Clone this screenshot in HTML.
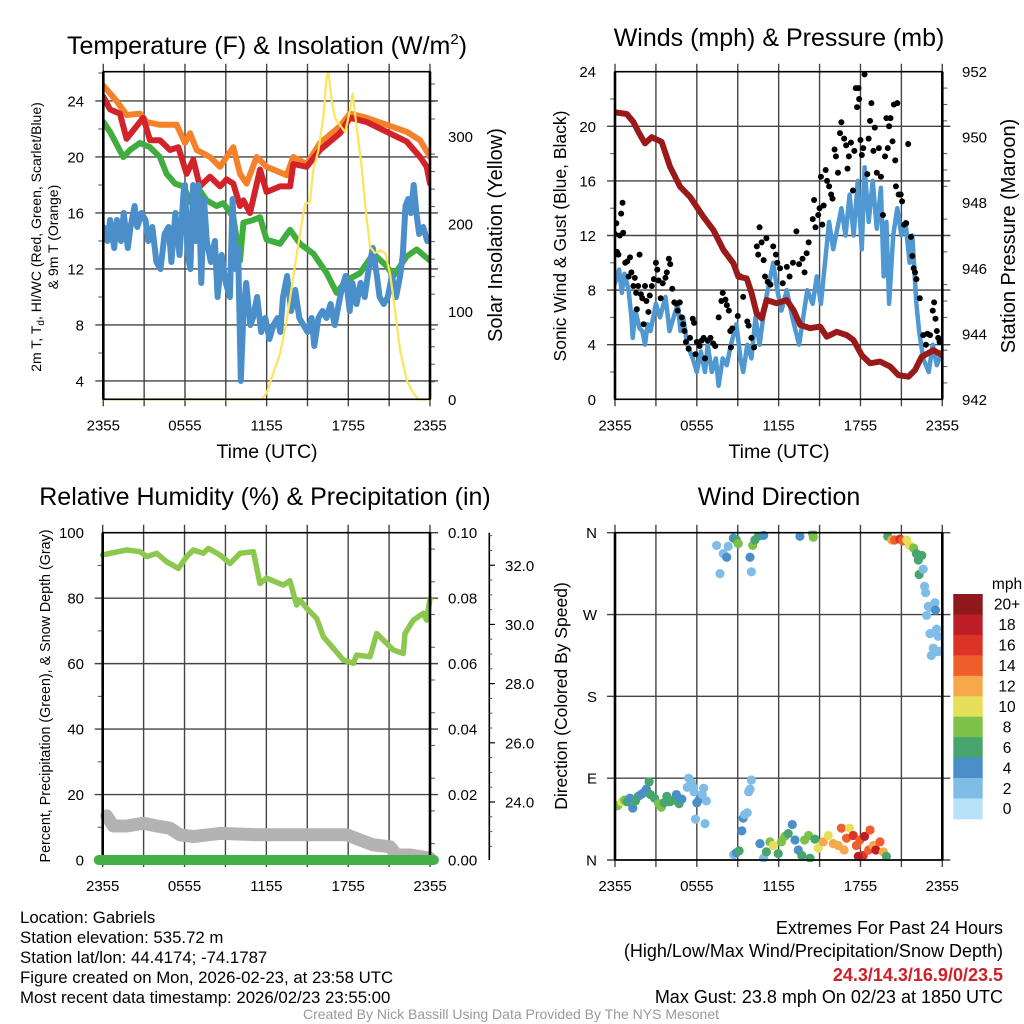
<!DOCTYPE html>
<html><head><meta charset="utf-8"><style>
html,body{margin:0;padding:0;background:#fff;}
svg{display:block;font-family:"Liberation Sans",sans-serif;}
</style></head><body>
<svg id="chart" width="1024" height="1024" viewBox="0 0 1024 1024" xmlns="http://www.w3.org/2000/svg">
<rect x="0" y="0" width="1024" height="1024" fill="#fff"/>
<g fill="#000">
<text x="267" y="54" font-size="25" text-anchor="middle">Temperature (F) &amp; Insolation (W/m<tspan font-size="15" dy="-10">2</tspan><tspan dy="10">)</tspan></text>
<text x="779" y="46" font-size="25" text-anchor="middle">Winds (mph) &amp; Pressure (mb)</text>
<text x="265" y="505" font-size="25" text-anchor="middle">Relative Humidity (%) &amp; Precipitation (in)</text>
<text x="779" y="505" font-size="25" text-anchor="middle">Wind Direction</text>
<text x="267" y="458" font-size="19.5" text-anchor="middle">Time (UTC)</text>
<text x="779" y="458" font-size="19.5" text-anchor="middle">Time (UTC)</text>
<text font-size="14" text-anchor="middle" transform="translate(41,237) rotate(-90)">2m T, T<tspan font-size="10" dy="3">d</tspan><tspan dy="-3">, HI/WC (Red, Green, Scarlet/Blue)</tspan></text>
<text font-size="14" text-anchor="middle" transform="translate(58,237) rotate(-90)">&amp; 9m T (Orange)</text>
<text font-size="20" text-anchor="middle" transform="translate(502,235) rotate(-90)">Solar Insolation (Yellow)</text>
<text font-size="17.5" text-anchor="middle" transform="translate(566,236) rotate(-90)">Sonic Wind &amp; Gust (Blue, Black)</text>
<text font-size="20" text-anchor="middle" transform="translate(1015,236) rotate(-90)">Station Pressure (Maroon)</text>
<text font-size="14.3" text-anchor="middle" transform="translate(50,696) rotate(-90)">Percent, Precipitation (Green), &amp; Snow Depth (Gray)</text>
<text font-size="17.5" text-anchor="middle" transform="translate(567,696) rotate(-90)">Direction (Colored By Speed)</text>
</g>
<g font-size="16.8" fill="#000">
<text x="20" y="923">Location: Gabriels</text>
<text x="20" y="943">Station elevation: 535.72 m</text>
<text x="20" y="963">Station lat/lon: 44.4174; -74.1787</text>
<text x="20" y="983">Figure created on Mon, 2026-02-23, at 23:58 UTC</text>
<text x="20" y="1003">Most recent data timestamp: 2026/02/23 23:55:00</text>
</g>
<g font-size="18" text-anchor="end" fill="#000">
<text x="1003" y="934">Extremes For Past 24 Hours</text>
<text x="1003" y="957">(High/Low/Max Wind/Precipitation/Snow Depth)</text>
<text x="1003" y="981" fill="#d0202a" font-weight="bold">24.3/14.3/16.9/0/23.5</text>
<text x="1003" y="1003">Max Gust: 23.8 mph On 02/23 at 1850 UTC</text>
</g>
<text x="511" y="1019" font-size="14" fill="#999" text-anchor="middle">Created By Nick Bassill Using Data Provided By The NYS Mesonet</text>
</svg>
<script>
// ---------- data ----------
const xTickLabels=['2355','0555','1155','1755','2355'];
const orangeT=[0,0.98,1.71,2.69,3.18,4.16,5.39,6.0,6.37,6.86,7.84,8.57,9.06,9.55,10.04,10.53,11.27,12.0,13.47,13.96,14.94,15.92,17.39,18.12,19.35,20.82,22.29,23.27,24];
const orangeV=[25.1,24,23,23.1,22.5,22.3,22.3,21,21.7,20.5,20,19.3,20,20.7,18.8,18.1,20,19.3,18.7,20,19.5,21,22.2,23.1,22.8,22.3,21.8,21.2,20];
const redT=[0,0.49,1.22,1.71,2.2,2.94,3.43,4.16,4.9,5.51,6.12,6.61,7.1,7.84,8.57,9.06,9.55,10.04,10.29,10.78,11.51,12.0,12.98,13.72,13.96,14.94,15.92,17.39,18.12,19.35,20.82,22.29,23.27,23.76,24];
const redV=[24.3,23.4,23.1,21.3,21.9,22.8,21.2,21.2,20.5,20.7,18.8,19.8,17.9,18.6,17.9,18.4,18.1,16.5,16.9,16,19.1,17.5,17.9,17.9,19.5,19.3,20.5,21.7,22.8,22.5,21.8,21.1,20,19.3,18.1];
const greenT=[0,0.49,1.47,1.96,2.69,3.43,4.16,4.65,5.27,5.88,6.49,7.1,7.59,8.33,8.82,9.55,10.04,10.29,11.02,11.51,12.0,12.98,13.72,14.45,15.43,16.41,17.14,17.88,18.86,19.84,20.82,21.31,22.29,23.02,24];
const greenV=[22.5,21.8,20,20.5,21,20.7,20,18.8,18.1,17.9,16.7,17.6,16.9,16.5,16.7,15.7,12.6,15.3,15.5,15.7,14.1,13.8,14.8,13.8,13.1,11.7,10.3,11.2,11.7,13.1,12.2,11.5,12.9,13.4,12.6];
const blueT=[0,0.3,0.5,0.8,1.0,1.3,1.5,1.8,2.0,2.3,2.5,2.8,3.1,3.3,3.6,3.9,4.2,4.5,4.8,5.0,5.3,5.6,5.9,6.0,6.2,6.4,6.6,6.8,7.0,7.2,7.4,7.6,7.9,8.2,8.4,8.7,9.0,9.3,9.5,9.7,9.9,10.1,10.3,10.5,10.8,11.0,11.3,11.6,11.9,12.2,12.5,12.8,13.0,13.2,13.5,13.8,14.1,14.4,14.7,15.0,15.3,15.5,15.8,16.1,16.4,16.7,17.0,17.2,17.5,17.8,18.1,18.3,18.6,18.9,19.2,19.5,19.8,20.1,20.3,20.6,20.9,21.2,21.5,21.8,22.0,22.2,22.4,22.6,22.8,23.0,23.2,23.5,23.8,24];
const blueV=[15,14,15.5,13.5,15.5,14,16,13.5,15,16.5,15,16,15.5,14,15,12.5,12,14.5,15,12.5,16,13,17.5,18,13,12,18,14,18,11,17,14,12.5,14,10,13,11,10,17,12,13.5,4,9,11,8,8.5,10,7.5,8.5,7,8,8.5,7.5,10,11.5,9,10.5,8.5,8,7.5,8.5,6.5,8.5,9,8.5,9.5,8,9,10.5,11.5,9,11,9.5,11,10,12,13.5,11.5,10,9.5,10,11.5,10,11.5,13,16.5,17,16,18,16,14.5,15,14,14];
const solarT=[0,11.63,12.0,12.49,12.98,13.47,13.96,14.45,14.82,15.18,15.43,15.8,16.16,16.41,16.53,16.78,17.02,17.39,17.76,18.12,18.32,18.61,18.98,19.23,19.59,19.96,20.33,20.7,21.06,21.43,21.8,22.29,22.78,23.14,24];
const solarV=[0,0,7,30,52,90,140,189,223,225,262,284,322,368,374,341,321,313,305,330,349,311,265,223,174,167,170,167,144,102,56,22,7,0,0];
const windT=[0,0.3,0.5,0.7,1.0,1.2,1.3,1.5,1.8,2.0,2.2,2.4,2.6,3.0,3.3,3.7,4.0,4.3,4.6,4.8,5.0,5.3,5.7,6.0,6.3,6.6,6.8,7.1,7.4,7.6,7.9,8.2,8.5,8.9,9.2,9.4,9.7,10.0,10.3,10.6,11.0,11.3,11.6,11.9,12.2,12.6,13.0,13.5,13.8,14.1,14.5,14.8,15.1,15.4,15.7,16.0,16.3,16.6,16.9,17.2,17.5,17.8,18.1,18.3,18.6,18.9,19.2,19.5,19.7,19.9,20.1,20.4,20.7,21.0,21.3,21.6,21.8,22.1,22.3,22.6,23.0,23.3,23.6,24];
const windV=[8.5,9.5,7.8,9.2,8,6,4.5,6.5,5.2,5,4,5.5,5,7,6,7.5,5,6,7,5,6,4,3,2,3.5,2,4,2,3,1,3,2.5,4,5.5,3,2,4,3,6,4,7,8.5,10,8,6.5,8,6,4,6,8,7,9,7,10,13,11,12.5,14,12,15,12,16,11,17,13,16,12.5,15.5,9,13,7,12,14,12,13,10,12,7,5,3,2,4,2.5,3.5];
const gustT=[0,0.1,0.15,0.25,0.35,0.45,0.55,0.6,0.75,0.9,1.0,1.1,1.2,1.35,1.45,1.55,1.6,1.7,1.8,1.9,2.0,2.1,2.2,2.3,2.45,2.55,2.7,2.85,3.0,3.1,3.2,3.35,3.5,3.7,3.8,3.95,4.05,4.2,4.35,4.5,4.6,4.75,4.9,5.0,5.1,5.2,5.4,5.5,5.7,5.8,5.9,6.0,6.2,6.35,6.5,6.6,6.8,7.0,7.2,7.35,7.6,7.8,7.9,8.1,8.2,8.35,8.45,8.5,8.6,9.0,9.2,9.4,9.7,9.8,10.0,10.2,10.4,10.5,10.6,10.75,10.9,11.0,11.1,11.2,11.4,11.6,11.8,11.9,12.1,12.3,12.6,12.8,13.05,13.3,13.5,13.75,13.9,14.05,14.2,14.5,14.6,14.7,14.9,15.0,15.1,15.2,15.3,15.45,15.55,15.7,15.85,15.95,16.1,16.2,16.35,16.5,16.6,16.8,16.95,17.05,17.15,17.3,17.45,17.55,17.65,17.75,17.85,17.9,18.0,18.1,18.2,18.3,18.5,18.6,18.7,18.8,18.95,19.05,19.2,19.35,19.5,19.65,19.8,19.9,20.0,20.1,20.2,20.35,20.45,20.55,20.6,20.7,20.8,20.95,21.05,21.2,21.35,21.5,21.7,21.8,21.9,22.0,22.1,22.35,22.6,22.8,22.9,23.1,23.3,23.4,23.5,23.6,23.7,23.8,23.95];
const gustV=[12.1,12.9,10.8,10.6,12.0,13.6,14.4,12.2,10.0,10.1,9.0,10.4,9.3,8.3,8.9,7.8,6.6,8.3,10.6,7.7,7.4,5.5,8.3,7.2,6.4,7.6,8.3,8.8,10.0,9.5,8.7,7.4,8.5,8.9,9.3,10.3,9.9,8.1,7.1,7.0,6.5,7.1,6.0,5.5,5.0,4.2,3.7,4.5,5.9,5.6,3.3,4.2,3.9,4.3,4.5,3.0,4.3,4.5,4.1,3.9,6.0,7.2,7.8,7.3,6.9,6.5,5.0,3.8,5.2,6.1,9.0,7.5,5.7,5.4,4.5,3.8,11.2,10.6,12.6,11.5,10.2,9.0,11.8,8.6,8.4,11.2,10.6,10.0,9.6,8.5,9.7,9.0,10.0,12.3,9.9,10.3,9.3,10.7,11.5,13.2,14.6,12.6,13.5,14.0,16.3,12.8,14.2,16.8,16.0,15.6,15.0,14.7,18.3,17.8,16.6,19.5,20.3,19.1,18.6,16.9,17.8,18.8,15.3,18.2,22.8,21.4,22.8,22.0,19.0,17.9,18.4,23.8,16.5,19.1,20.4,21.7,18.2,19.9,16.6,18.4,16.3,13.5,17.8,20.6,18.4,20.0,20.6,18.9,21.6,17.5,15.6,21.7,15.0,15.0,14.5,12.8,12.9,18.7,11.9,10.5,9.6,9.3,8.8,7.4,4.7,4.0,4.8,4.7,6.5,7.1,5.9,5.0,4.5,4.2,4.2];
const presT=[0,0.86,1.34,1.71,2.2,2.69,3.42,4.03,4.77,5.5,6.48,7.21,7.95,8.68,9.05,9.66,10.02,10.39,10.76,11.12,11.86,12.59,13.08,13.57,14.3,15.04,15.53,16.26,16.99,17.48,18.09,18.7,19.44,20.17,20.78,21.52,22.0,22.49,23.35,24];
const presV=[950.76,950.71,950.47,950.17,949.81,950.0,949.86,949.10,948.49,948.18,947.57,947.17,946.56,946.15,945.74,945.69,945.24,944.62,944.47,945.03,944.93,945.03,944.73,944.27,944.17,944.22,943.91,944.06,943.96,943.81,943.35,943.10,943.15,943.0,942.74,942.69,942.89,943.30,943.50,943.35];
const rhT=[0,0.54,1.76,2.74,3.23,3.96,4.69,5.55,6.16,6.65,7.38,7.75,8.6,9.34,10.07,11.05,11.53,12.02,13.25,13.73,14.22,14.47,14.96,15.69,16.18,16.91,17.64,18.38,18.62,19.6,20.09,20.82,21.31,22.04,22.17,22.78,23.51,23.75,24];
const rhV=[93.2,93.7,94.7,94.2,92.7,93.7,91.1,89.1,92.7,94.7,93.7,95.2,93.2,90.6,93.7,94.2,84.5,86.1,84.0,85.3,77.9,79.4,76.9,73.8,68.2,64.7,61.1,60.1,62.6,62.1,69.2,66.2,64.2,63.1,69.2,73.3,75.4,73.3,79.9];
const snowT=[0.29,0.78,1.76,2.98,3.96,4.94,5.67,6.65,8.6,11.53,13.98,17.89,18.87,19.84,21.07,21.55,22.53,24];
const snowV=[23.53,23.19,23.19,23.28,23.19,23.11,22.89,22.83,22.94,22.89,22.89,22.89,22.72,22.55,22.49,22.21,22.21,22.1];
const precipT=[0,24];
const precipV=[0,0];
const dirT=[0,0.2,0.5,0.7,0.9,1.1,1.3,1.5,1.7,1.9,2.1,2.3,2.5,2.6,2.9,3.2,3.4,3.6,3.8,4.0,4.3,4.5,4.7,4.9,5.3,5.4,5.6,5.8,6.0,6.2,6.4,6.5,6.7,5.9,6.6,5.7,8.7,8.9,9.1,9.3,9.4,9.5,9.7,9.8,9.9,10.0,7.45,7.7,7.94,8.19,8.3,8.68,8.9,9.04,9.9,10.0,10.1,10.26,10.5,10.9,13.56,14.5,14.54,10.63,10.9,11.1,11.36,11.6,11.97,12.2,12.46,12.7,13.0,13.2,13.44,13.7,13.9,14.2,14.3,14.66,14.9,15.27,15.64,16.0,16.37,16.6,16.8,16.98,17.2,17.47,17.7,17.96,18.2,18.3,18.6,18.7,18.94,19.13,19.43,19.67,19.9,17.84,20.0,20.3,20.5,20.9,21.1,21.4,21.6,21.9,22.1,22.24,22.5,22.3,22.6,22.7,22.78,22.97,22.85,23.1,23.46,23.5,23.58,23.7,23.1,23.34,23.2,23.46,23.95,23.7];
const dirV=[59,60,64,66,64,68,57,65,70,72,74,78,86,72,68,62,58,63,70,64,66,72,62,67,80,90,85,75,63,67,72,79,65,45,40,81,6,8,10,32,46,50,52,75,78,88,346,315,337,333,345,354,352,348,333,317,346,352,356,357,356,359,355,18,2,9,20,16,7,20,26,29,39,22,11,5,22,27,2,23,13,20,27,18,16,35,11,24,35,27,16,22,5,26,11,33,16,11,20,9,4,4,356,352,352,353,351,352,346,343,337,330,335,314,320,301,294,279,269,278,283,275,254,246,249,233,225,231,230,229];
const dirS=[8,7,10,7,6,4,4,6,5,4,4,4,5,6,6,7,7,6,5,6,5,4,6,4,2,2,2,2,4,3,2,2,2,2,2,2,2,4,6,4,4,2,2,2,2,2,2,2,2,4,2,4,6,8,4,2,8,6,6,4,4,6,8,4,2,6,8,10,6,8,8,6,4,4,4,6,8,8,6,6,10,12,10,12,12,14,12,14,10,16,14,14,16,18,14,14,12,18,14,12,6,18,6,12,14,16,14,10,10,8,6,6,6,6,2,2,2,2,2,2,2,4,2,2,2,2,2,2,2,2];
const cbLabels=['20+','18','16','14','12','10','8','6','4','2','0'];
const cbColors=['#8f181c','#bd1e26','#dc3328','#ef5f2c','#f6a84a','#e6df5a','#7cc24a','#48a56e','#4a8fc8','#80bde6','#b6e1f7'];

// ---------- helpers ----------
const NS='http://www.w3.org/2000/svg';
const svg=document.getElementById('chart');
function mk(tag,attrs,parent){const e=document.createElementNS(NS,tag);for(const k in attrs)e.setAttribute(k,attrs[k]);(parent||svg).appendChild(e);return e;}
function sx(p,h){return p.x0+h/24*(p.x1-p.x0);}
function sy(p,v,min,max){return p.y1-(v-min)/(max-min)*(p.y1-p.y0);}
function pts(p,T,V,min,max){return T.map((t,i)=>sx(p,t).toFixed(1)+','+sy(p,Math.max(min,Math.min(max,V[i])),min,max).toFixed(1)).join(' ');}
function grp(name){const g=mk('g',{});


return g;}
function frame(p,name,hVals,min,max){
 const g=grp(name+'-grid');
 for(let k=0;k<=8;k++){const x=sx(p,k*3);
  const l=mk('line',{x1:x,x2:x,y1:p.y0-8,y2:p.y1+7,stroke:'#444','stroke-width':1.4},g);
  
  }
 hVals.forEach(v=>{const y=sy(p,v,min,max);
  const l=mk('line',{x1:p.x0-8,x2:p.x1+8,y1:y,y2:y,stroke:'#444','stroke-width':1.4},g);
  
  });
 return g;}
function border(p,name){const r=mk('rect',{x:p.x0,y:p.y0,width:p.x1-p.x0,height:p.y1-p.y0,fill:'none',stroke:'#000','stroke-width':1.6});
 
 
 mk('line',{x1:p.x0,x2:p.x0,y1:p.y0,y2:p.y1,stroke:'#000','stroke-width':2.6});
 mk('line',{x1:p.x1,x2:p.x1,y1:p.y0,y2:p.y1,stroke:'#000','stroke-width':2.6});}
function xLabels(p,name){const g=grp(name+'-x-ticks');
 xTickLabels.forEach((s,i)=>{const t=mk('text',{x:sx(p,i*6),y:p.y1+31,'font-size':15,'text-anchor':'middle'},g);
  
  
  t.textContent=s;});}
function yLabels(p,name,vals,labels,min,max,side,x){const g=grp(name);
 vals.forEach((v,i)=>{const t=mk('text',{x:x,y:sy(p,v,min,max)+5.5,'font-size':15,'text-anchor':side},g);
  
  
  t.textContent=labels[i];});}
function minorTicks(p,vals,min,max,x,len){vals.forEach(v=>{const y=sy(p,v,min,max);mk('line',{x1:x,x2:x+len,y1:y,y2:y,stroke:'#555','stroke-width':1});});}
function line(p,T,V,min,max,color,w,name){const l=mk('polyline',{points:pts(p,T,V,min,max),fill:'none',stroke:color,'stroke-width':w,'stroke-linejoin':'round','stroke-linecap':'round'});
 
 
 return l;}
function clip(p,id){const c=mk('clipPath',{id:id});mk('rect',{x:p.x0,y:p.y0-2,width:p.x1-p.x0,height:p.y1-p.y0+4},c);}

// ---------- panel 1 ----------
const P1={x0:103.3,x1:430,y0:71.7,y1:399.3};const T1min=2.69,T1max=26.09,S1max=374;
frame(P1,'temperature',[4,8,12,16,20,24],T1min,T1max);
minorTicks(P1,[6,10,14,18,22,26],T1min,T1max,P1.x0-5,5);
minorTicks(P1,[20,40,60,80,120,140,160,180,220,240,260,280,320,340,360],0,S1max,P1.x1,5);
clip(P1,'c1');
const s1=grp('temperature-series');s1.setAttribute('clip-path','url(#c1)');
[['temp-9m-line',orangeT,orangeV,'#f5822a'],['temp-2m-line',redT,redV,'#d3222a'],['dewpoint-line',greenT,greenV,'#41ad3f'],['windchill-line',blueT,blueV,'#4a8fc9']].forEach(a=>{const l=line(P1,a[1],a[2],T1min,T1max,a[3],6,a[0]);s1.appendChild(l);});
const sl=line(P1,solarT,solarV,0,S1max,'#fde45a',2.2,'solar-insolation-line');s1.appendChild(sl);
border(P1,'temperature');
xLabels(P1,'temperature');
yLabels(P1,'temp-left-ticks',[4,8,12,16,20,24],['4','8','12','16','20','24'],T1min,T1max,'end',84);
yLabels(P1,'insolation-ticks',[0,100,200,300],['0','100','200','300'],0,S1max,'start',448);

// ---------- panel 2 ----------
const P2={x0:615,x1:942.3,y0:71.7,y1:399.3};
frame(P2,'winds',[4,8,12,16,20],0,24);
minorTicks(P2,[2,6,10,14,18,22],0,24,P2.x0-5,5);
minorTicks(P2,[942.5,943,943.5,944.5,945,945.5,946.5,947,947.5,948.5,949,949.5,950.5,951,951.5],942,952,P2.x1,5);
clip(P2,'c2');
const s2=grp('winds-series');s2.setAttribute('clip-path','url(#c2)');
s2.appendChild(line(P2,windT,windV,0,24,'#4f98d2',4.5,'sonic-wind-line'));
const gg=mk('g',{},s2);


gustT.forEach((t,i)=>{const c=mk('circle',{cx:sx(P2,t),cy:sy(P2,gustV[i],0,24),r:3,fill:'#000'},gg);
 
 });
s2.appendChild(line(P2,presT,presV,942,952,'#9a1a1a',6,'pressure-line'));
border(P2,'winds');
xLabels(P2,'winds');
yLabels(P2,'wind-left-ticks',[0,4,8,12,16,20,24],['0','4','8','12','16','20','24'],0,24,'end',596);
yLabels(P2,'pressure-ticks',[942,944,946,948,950,952],['942','944','946','948','950','952'],942,952,'start',962);

// ---------- panel 3 ----------
const P3={x0:102.7,x1:430,y0:532.7,y1:860};const SNmin=22.04,SNmax=33.1;
frame(P3,'humidity',[20,40,60,80],0,100);
minorTicks(P3,[10,30,50,70,90],0,100,P3.x0-5,5);
minorTicks(P3,[0.005,0.015,0.025,0.035,0.045,0.055,0.065,0.075,0.085,0.095],0,0.1,P3.x1,5);
mk('line',{x1:P3.x1,x2:P3.x1+8,y1:P3.y0,y2:P3.y0,stroke:'#444','stroke-width':1.4});
mk('line',{x1:P3.x1,x2:P3.x1+8,y1:P3.y1,y2:P3.y1,stroke:'#444','stroke-width':1.4});
const s3=grp('humidity-series');
s3.appendChild(line(P3,rhT,rhV,0,100,'#8cc84e',5.5,'relative-humidity-line'));
s3.appendChild(line(P3,snowT,snowV,SNmin,SNmax,'#b3b3b3',13,'snow-depth-line'));
border(P3,'humidity');
const pl=line(P3,precipT,precipV,0,0.1,'#44b045',10,'precipitation-line');
pl.setAttribute('points',(P3.x0-4)+','+P3.y1+' '+(P3.x1+4)+','+P3.y1);
xLabels(P3,'humidity');
yLabels(P3,'humidity-left-ticks',[0,20,40,60,80,100],['0','20','40','60','80','100'],0,100,'end',84);
yLabels(P3,'precip-ticks',[0,0.02,0.04,0.06,0.08,0.1],['0.00','0.02','0.04','0.06','0.08','0.10'],0,0.1,'start',448);
const sa=mk('line',{x1:489.3,x2:489.3,y1:P3.y0,y2:P3.y1,stroke:'#000','stroke-width':1.6});


[24,26,28,30,32].forEach(v=>{const y=sy(P3,v,SNmin,SNmax);mk('line',{x1:489.3,x2:495,y1:y,y2:y,stroke:'#000','stroke-width':1.2});});
minorTicks(P3,[22.5,23,23.5,24.5,25,25.5,26.5,27,27.5,28.5,29,29.5,30.5,31,31.5,32.5,33],SNmin,SNmax,489.3,3);
yLabels(P3,'snow-depth-ticks',[24,26,28,30,32],['24.0','26.0','28.0','30.0','32.0'],SNmin,SNmax,'start',505);

// ---------- panel 4 ----------
const P4={x0:615,x1:942.3,y0:532.7,y1:860};
frame(P4,'direction',[90,180,270],0,360);
mk('line',{x1:P4.x0-8,x2:P4.x1+8,y1:P4.y0,y2:P4.y0,stroke:'#444','stroke-width':1.4});
mk('line',{x1:P4.x0-8,x2:P4.x1+8,y1:P4.y1,y2:P4.y1,stroke:'#444','stroke-width':1.4});
clip(P4,'c4');
const s4=grp('wind-direction-points');s4.setAttribute('clip-path','url(#c4)');
dirT.forEach((t,i)=>{const ci=10-Math.min(10,Math.round(dirS[i]/2));
 const c=mk('circle',{cx:sx(P4,t),cy:sy(P4,dirV[i],0,360),r:4.6,fill:cbColors[ci]},s4);
 
 });
border(P4,'direction');
xLabels(P4,'direction');
yLabels(P4,'direction-ticks',[0,90,180,270,360],['N','E','S','W','N'],0,360,'end',597);
// colorbar
const cb=grp('speed-colorbar');
const cbY0=594,cbH=20.45;
cbColors.forEach((c,i)=>{const r=mk('rect',{x:953.3,y:cbY0+i*cbH,width:29.4,height:cbH+0.4,fill:c},cb);
 
 
 const t=mk('text',{x:1007,y:cbY0+i*cbH+cbH/2+5.5,'font-size':15.5,'text-anchor':'middle'},cb);
 
 
 t.textContent=cbLabels[i];});
const mu=mk('text',{x:1007,y:589,'font-size':15.5,'text-anchor':'middle'},cb);


mu.textContent='mph';
</script>
</body></html>
